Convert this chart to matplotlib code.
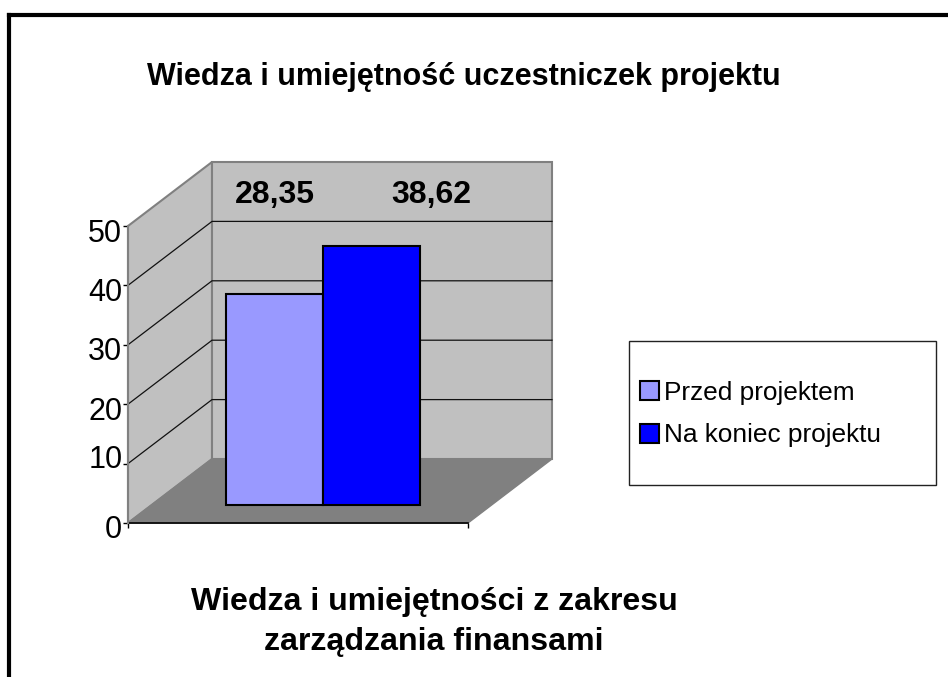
"""Wiedza i umiejetnosc uczestniczek projektu: fake-3D Excel style column chart."""

import matplotlib

matplotlib.use("Agg")
import matplotlib.pyplot as plt
from matplotlib.lines import Line2D
from matplotlib.patches import Polygon, Rectangle
from matplotlib.transforms import ScaledTranslation

plt.rcParams["font.family"] = ["Liberation Sans", "DejaVu Sans"]

W, H = 948, 677
DPI = 100

TITLE = "Wiedza i umiejętność uczestniczek projektu"
XLABEL = "Wiedza i umiejętności z zakresu\nzarządzania finansami"
SERIES = ["Przed projektem", "Na koniec projektu"]
BAR_HEIGHTS = [35.6, 43.7]
BAR_LABELS = ["28,35", "38,62"]
BAR_COLORS = ["#9999FF", "#0000FF"]
Y_TICKS = [0, 10, 20, 30, 40, 50]

# front plane of the box, pixels from top left
LEFT, RIGHT, TOP, BOTTOM = 128, 468, 226, 523
BACK_DX, BACK_DY = 84, 64  # shift from front plane to back wall
BAR_DEPTH = 0.28  # how far back the bars stand on the floor
BAR_W = 97


def fig_rect(left, right, top, bottom):
    return [left / W, 1 - bottom / H, (right - left) / W, (bottom - top) / H]


fig = plt.figure(figsize=(W / DPI, H / DPI), dpi=DPI)
ax = fig.add_axes(fig_rect(LEFT, RIGHT, TOP, BOTTOM))
ax.patch.set_visible(False)

# x unit = one bar width, y unit = axis value
x0 = -0.5 - 74.5 / BAR_W
x1 = x0 + (RIGHT - LEFT) / BAR_W
ax.set_xlim(x0, x1)
ax.set_ylim(0, 50)
dx = BACK_DX / BAR_W
dy = BACK_DY * 50 / (BOTTOM - TOP)


def wall(pts, **kw):
    ax.add_patch(Polygon(pts, closed=True, clip_on=False, **kw))


edge = dict(edgecolor="#808080", linewidth=1.5, zorder=1)
wall([(x0, 0), (x0 + dx, dy), (x0 + dx, 50 + dy), (x0, 50)], facecolor="#C0C0C0", **edge)
wall([(x0 + dx, dy), (x1 + dx, dy), (x1 + dx, 50 + dy), (x0 + dx, 50 + dy)],
     facecolor="#C0C0C0", **edge)
wall([(x0, 0), (x1, 0), (x1 + dx, dy), (x0 + dx, dy)],
     facecolor="#808080", edgecolor="#808080", linewidth=1, zorder=1.5)

for v in Y_TICKS[1:-1]:
    ax.plot([x0, x0 + dx, x1 + dx], [v, v + dy, v + dy], color="#111111", lw=0.9,
            clip_on=False, zorder=2)

bars = ax.bar(
    [b + BAR_DEPTH * dx for b in range(len(BAR_HEIGHTS))], BAR_HEIGHTS, width=1,
    bottom=BAR_DEPTH * dy, color=BAR_COLORS, edgecolor="black", linewidth=1.5,
    clip_on=False, zorder=3)

label_xs = [0.0, 1.62]
for xp, lab in zip(label_xs, BAR_LABELS):
    ax.text(xp + BAR_DEPTH * dx, 50 + 0.48 * dy, lab, ha="center", va="center",
            fontsize=23, fontweight="bold", zorder=4)

ax.set_yticks(Y_TICKS)
ax.set_yticklabels([str(v) for v in Y_TICKS], fontsize=22)
ax.set_xticks([x0, x1])
ax.set_xticklabels([])
ax.tick_params(axis="both", direction="out", length=3.6, width=1, pad=0.5)
for tick in ax.yaxis.get_major_ticks():
    shift = 7 if tick.get_loc() == 10 else -4
    tick.label1.set_transform(
        tick.label1.get_transform() + ScaledTranslation(0, shift / DPI, fig.dpi_scale_trans))

for side in ("top", "right"):
    ax.spines[side].set_visible(False)
ax.spines["left"].set_color("#808080")
ax.spines["left"].set_linewidth(1.5)
ax.spines["bottom"].set_color("black")
ax.spines["bottom"].set_linewidth(1.2)
ax.spines["bottom"].set_zorder(2)

fig.text(464 / W, 1 - 76.5 / H, TITLE, ha="center", va="center", fontsize=22, fontweight="bold")
fig.text(434 / W, 1 - 622 / H, XLABEL, ha="center", va="center", fontsize=23.1,
         fontweight="bold", linespacing=1.42)

# legend box
fig.add_artist(Rectangle((629 / W, 1 - 485 / H), 307 / W, 144 / H, transform=fig.transFigure,
                         facecolor="white", edgecolor="#222222", linewidth=1))
fig.legend(
    bars, SERIES, loc="center left", bbox_to_anchor=(632 / W, 1 - 414 / H), frameon=False,
    fontsize=18.9, handlelength=0.73, handleheight=0.73, handletextpad=0.2,
    labelspacing=0.72, borderpad=0, borderaxespad=0.3)

# page edge: only the left and top rules of the frame are in the picture
fig.add_artist(Line2D([9 / W, 9 / W], [0, 1 - 15 / H], transform=fig.transFigure,
                      color="black", linewidth=3, solid_capstyle="projecting"))
fig.add_artist(Line2D([9 / W, 1], [1 - 15 / H, 1 - 15 / H], transform=fig.transFigure,
                      color="black", linewidth=3, solid_capstyle="projecting"))

fig.savefig("out.png", dpi=DPI)
